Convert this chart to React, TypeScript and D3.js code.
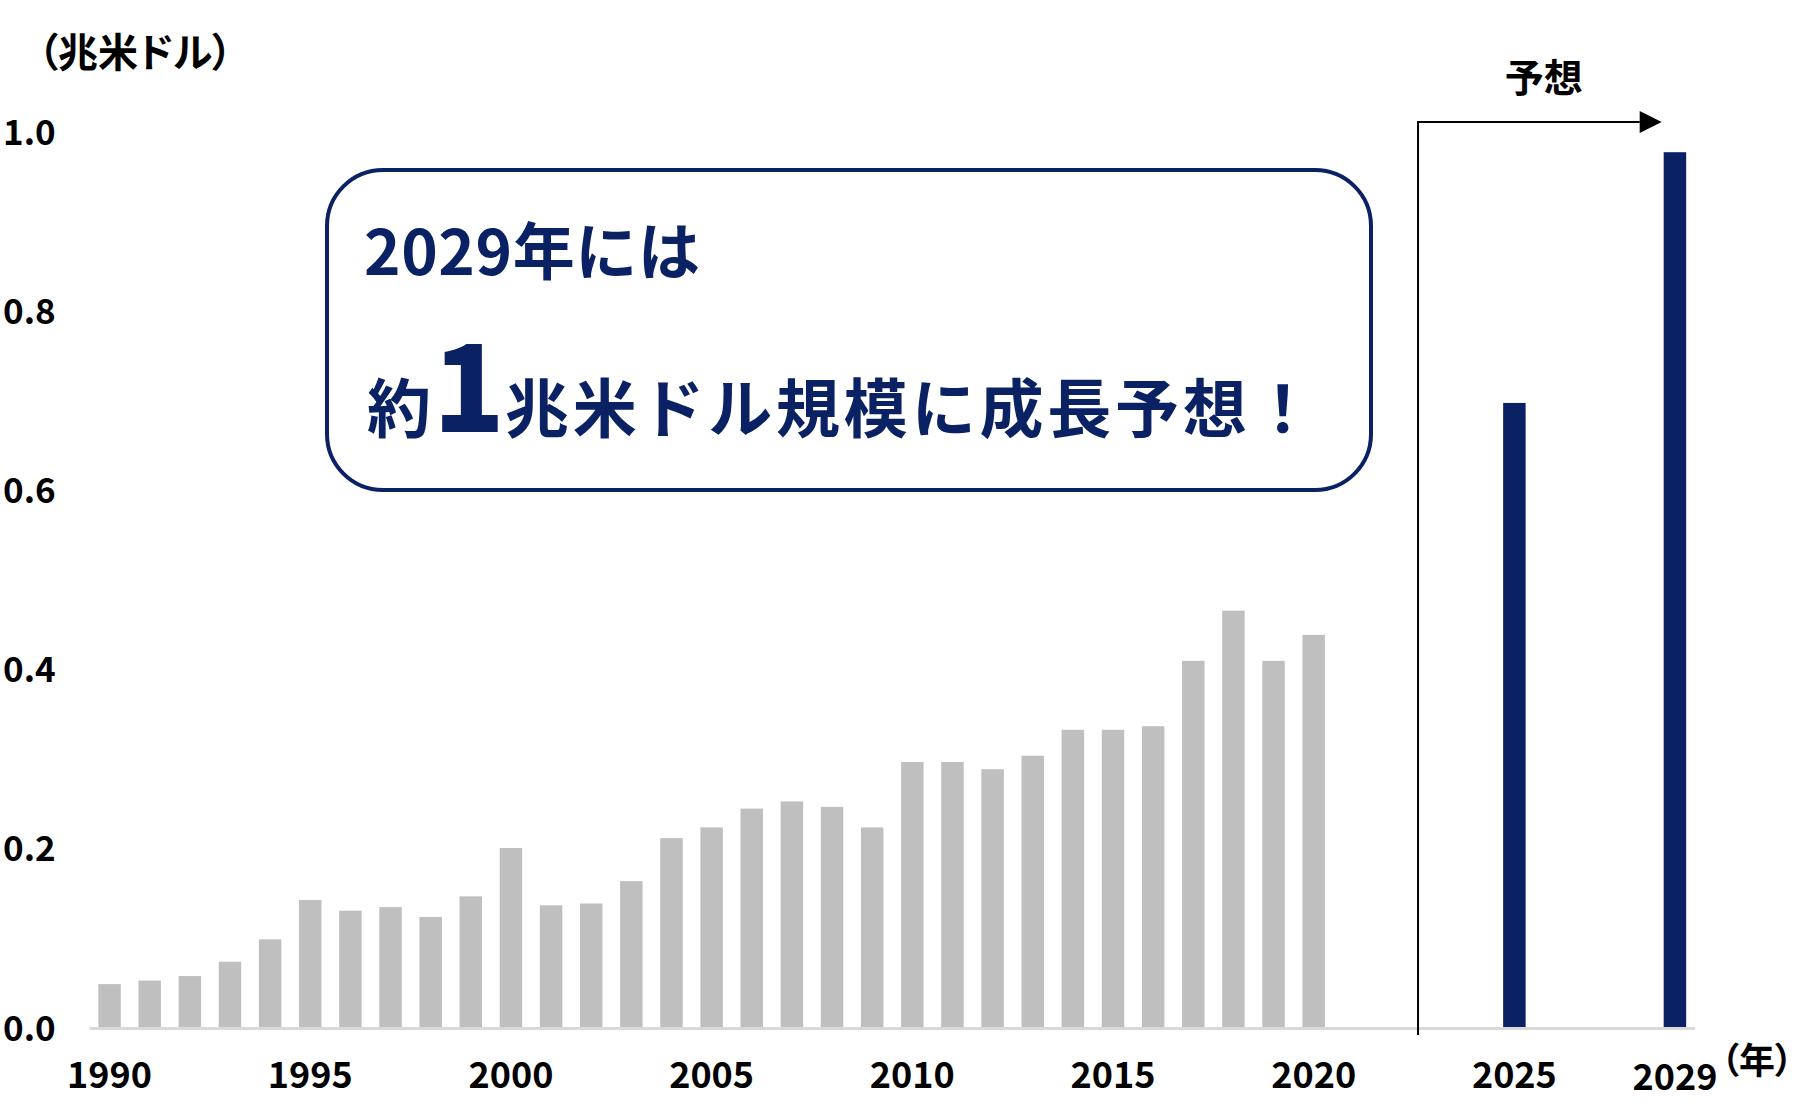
import { useEffect, useRef } from 'react';
import * as d3 from 'd3';

const WIDTH = 1800;
const HEIGHT = 1116;
const FONT = '"Noto Sans CJK JP", "Noto Sans", sans-serif';
const NAVY = '#0a2264';
const GRAY = '#bfbfbf';

// 実績 (1990-2020)
const histYears = [
  1990, 1991, 1992, 1993, 1994, 1995, 1996, 1997, 1998, 1999,
  2000, 2001, 2002, 2003, 2004, 2005, 2006, 2007, 2008, 2009,
  2010, 2011, 2012, 2013, 2014, 2015, 2016, 2017, 2018, 2019, 2020,
];
const histValues = [
  0.049, 0.053, 0.058, 0.074, 0.099, 0.143, 0.131, 0.135, 0.124, 0.147,
  0.201, 0.137, 0.139, 0.164, 0.212, 0.224, 0.245, 0.253, 0.247, 0.224,
  0.297, 0.297, 0.289, 0.304, 0.333, 0.333, 0.337, 0.41, 0.466, 0.41, 0.439,
];

// 予想
const forecastYears = [2025, 2029];
const forecastValues = [0.698, 0.978];

const xTickYears = [1990, 1995, 2000, 2005, 2010, 2015, 2020, 2025, 2029];
const yTicks = [0, 0.2, 0.4, 0.6, 0.8, 1.0];

const allYears = d3.range(1990, 2030);

export default function App() {
  const svgRef = useRef<SVGSVGElement>(null);

  useEffect(() => {
    if (!svgRef.current) return;
    const svg = d3.select(svgRef.current);
    svg.selectAll('*').remove();

    const x = d3
      .scaleBand<number>()
      .domain(allYears)
      .range([89.5, 1695])
      .paddingInner(0.44)
      .paddingOuter(0.22);

    const y = d3.scaleLinear().domain([0, 1]).range([1028, 132.5]);

    // 実績バー
    svg
      .append('g')
      .selectAll('rect')
      .data(histYears)
      .join('rect')
      .attr('x', (d) => x(d)!)
      .attr('y', (d, i) => y(histValues[i]))
      .attr('width', x.bandwidth())
      .attr('height', (d, i) => y(0) - y(histValues[i]))
      .attr('fill', GRAY);

    // 予想バー
    svg
      .append('g')
      .selectAll('rect')
      .data(forecastYears)
      .join('rect')
      .attr('x', (d) => x(d)!)
      .attr('y', (d, i) => y(forecastValues[i]))
      .attr('width', x.bandwidth())
      .attr('height', (d, i) => y(0) - y(forecastValues[i]))
      .attr('fill', NAVY);

    // 横軸の線
    const [x0, x1] = x.range();
    svg
      .append('line')
      .attr('x1', x0)
      .attr('x2', x1)
      .attr('y1', y(0) + 0.5)
      .attr('y2', y(0) + 0.5)
      .attr('stroke', '#d9d9d9')
      .attr('stroke-width', 3);

    // 横軸ラベル
    svg
      .append('g')
      .selectAll('text')
      .data(xTickYears)
      .join('text')
      .attr('x', (d) => x(d)! + x.bandwidth() / 2)
      .attr('y', (d) => (d === 2029 ? 1090 : 1088))
      .attr('text-anchor', 'middle')
      .style('font-family', FONT)
      .style('font-weight', '700')
      .style('font-size', '36px')
      .style('fill', '#000')
      .text((d) => d);

    // 縦軸ラベル
    svg
      .append('g')
      .selectAll('text')
      .data(yTicks)
      .join('text')
      .attr('x', 3)
      .attr('y', (d) => y(d) + 12.5)
      .style('font-family', FONT)
      .style('font-weight', '700')
      .style('font-size', '35px')
      .style('fill', '#000')
      .text((d) => d3.format('.1f')(d));

    // 単位
    svg
      .append('text')
      .attr('x', 38)
      .attr('y', 67)
      .style('font-family', FONT)
      .style('font-weight', '700')
      .style('font-size', '40px')
      .style('font-feature-settings', '"palt"')
      .text('（兆米ドル）');

    svg
      .append('text')
      .attr('x', 1721)
      .attr('y', 1074)
      .style('font-family', FONT)
      .style('font-weight', '700')
      .style('font-size', '36px')
      .style('font-feature-settings', '"palt"')
      .text('（年）');

    // 予想の区切りと矢印
    const divX = (x(2022)! + x(2023)! + x.bandwidth()) / 2 + 4;
    const arrowY = 122;
    const arrowEnd = x(2029)! - 2;
    svg
      .append('line')
      .attr('x1', divX)
      .attr('x2', divX)
      .attr('y1', arrowY - 1)
      .attr('y2', 1035)
      .attr('stroke', '#000')
      .attr('stroke-width', 2);
    svg
      .append('line')
      .attr('x1', divX)
      .attr('x2', arrowEnd - 22)
      .attr('y1', arrowY)
      .attr('y2', arrowY)
      .attr('stroke', '#000')
      .attr('stroke-width', 2);
    svg
      .append('path')
      .attr(
        'd',
        `M${arrowEnd - 22},${arrowY - 11} L${arrowEnd},${arrowY} L${arrowEnd - 22},${arrowY + 11} Z`
      )
      .attr('fill', '#000');
    svg
      .append('text')
      .attr('x', (divX + arrowEnd) / 2 + 4)
      .attr('y', 92)
      .attr('text-anchor', 'middle')
      .style('font-family', FONT)
      .style('font-weight', '700')
      .style('font-size', '39px')
      .text('予想');

    // 吹き出しボックス
    svg
      .append('rect')
      .attr('x', 327)
      .attr('y', 170)
      .attr('width', 1044)
      .attr('height', 320)
      .attr('rx', 56)
      .attr('ry', 56)
      .attr('fill', '#fff')
      .attr('stroke', NAVY)
      .attr('stroke-width', 4);

    svg
      .append('text')
      .attr('x', 364)
      .attr('y', 275)
      .style('font-family', FONT)
      .style('font-weight', '700')
      .style('font-size', '62px')
      .style('letter-spacing', '0.6px')
      .style('fill', NAVY)
      .text('2029年には');

    const line2 = svg
      .append('text')
      .attr('x', 367)
      .attr('y', 432)
      .style('font-family', FONT)
      .style('font-weight', '700')
      .style('font-size', '64px')
      .style('fill', NAVY);
    line2.append('tspan').text('約');
    line2
      .append('tspan')
      .attr('dx', 2)
      .style('font-size', '118px')
      .style('font-weight', '900')
      .text('1');
    line2
      .append('tspan')
      .attr('dx', 0)
      .style('letter-spacing', '3.8px')
      .text('兆米ドル規模に成長予想！');
  }, []);

  return (
    <svg
      ref={svgRef}
      width={WIDTH}
      height={HEIGHT}
      style={{ position: 'absolute', left: 0, top: 0, background: '#fff' }}
    />
  );
}
